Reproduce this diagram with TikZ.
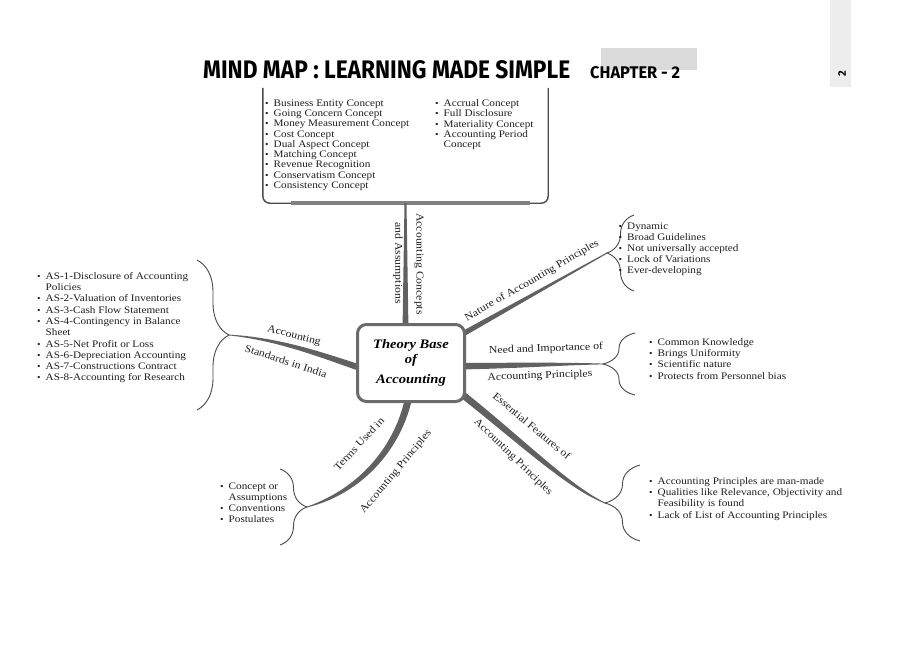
\documentclass[tikz,border=0pt]{standalone}
\usepackage{graphicx}
\usepackage{fontspec}
\setmainfont{Liberation Serif}[FakeStretch=1.12]
\newfontfamily\titlefont{Fira Sans}
\usetikzlibrary{calc,positioning,decorations.pathreplacing}

\newcommand\itm{\makebox[8.5pt][l]{\small\textbullet}}
\newcommand\cont{\hspace*{8.5pt}}

\tikzset{
  boxline/.style={draw=black!70, line width=1.4pt},
  hubbox/.style={draw=black!58, line width=3pt, rounded corners=9pt, fill=white,
    minimum width=107, minimum height=77, align=center,
    font=\bfseries\itshape\fontsize{13}{15}\selectfont},
  branch/.style={fill=black!62},
  bracket/.style={draw=black!72, line width=0.9pt, decorate, decoration={brace, amplitude=#1}},
  mapitems/.style={anchor=north west, align=left, inner sep=0pt, text=black!88,
    font=\fontsize{10}{#1}\selectfont},
  mapitems/.default=11.2,
  branchtext/.style={inner sep=0pt, text=black!88, font=\fontsize{10.5}{11}\selectfont},
  titletext/.style={inner sep=0pt, font=\titlefont\bfseries\fontsize{26}{26}\selectfont},
}

\begin{document}
\begin{tikzpicture}[x=1pt,y=-1pt]
  \useasboundingbox (0,0) rectangle (900,654);
  \fill[white] (0,0) rectangle (900,654);

  % header
  \fill[black!7] (830,0) rectangle (851,87);
  \fill[black!14] (601,48) rectangle (697,70);
  \node[titletext,anchor=base west] (title) at (203,78) {\resizebox{367pt}{18pt}{MIND MAP : LEARNING MADE SIMPLE}};
  \node[titletext,anchor=base west] (chapter) at (590,78) {\resizebox{90pt}{12pt}{CHAPTER - 2}};
  \node[titletext,rotate=90,font=\titlefont\bfseries\fontsize{11}{11}\selectfont] (pageno) at (842,74) {2};

  % concepts and assumptions box
  \node[minimum width=285,minimum height=115,inner sep=0pt] (concepts) at (405.5,145.5) {};
  \draw[boxline,rounded corners=7] (concepts.north west) |- (concepts.south east) -- (concepts.north east);
  \draw[line width=3.5,black!50] ($(concepts.south west)+(28,0)$) -- ($(concepts.south east)+(-18,0)$);
  \node[mapitems=10.25] (conceptsL) at (265,99.5) {\itm Business Entity Concept\\ \itm Going Concern Concept\\
    \itm Money Measurement Concept\\ \itm Cost Concept\\ \itm Dual Aspect Concept\\ \itm Matching Concept\\
    \itm Revenue Recognition\\ \itm Conservatism Concept\\ \itm Consistency Concept};
  \node[mapitems=10.25] (conceptsR) at (435,99.5) {\itm Accrual Concept\\ \itm Full Disclosure\\
    \itm Materiality Concept\\ \itm Accounting Period\\ \cont Concept};

  % hub and free ends
  \coordinate (hub) at (411,363);
  \coordinate (stdTip) at (229,335);
  \coordinate (natTip) at (607,253);
  \coordinate (needTip) at (603,364);
  \coordinate (essTip) at (605,503);
  \coordinate (termsTip) at (307,507);
  \coordinate (topFoot) at (concepts.south |- hub);

  % branches
  \fill[branch] ($(topFoot)+(-3.5,0)$) -- ($(concepts.south)+(-1,0)$) -- ($(concepts.south)+(1,0)$) -- ($(topFoot)+(3.5,0)$) -- cycle;
  \fill[branch] ($(hub)+(-1.7,-3.05)$) -- ($(natTip)+(-0.25,-0.44)$) -- ($(natTip)+(0.25,0.44)$) -- ($(hub)+(1.7,3.05)$) -- cycle;
  \fill[branch] ($(hub)+(0,0)$) .. controls (500,363) and (560,362) .. ($(needTip)+(0,-0.4)$)
    -- ($(needTip)+(0,0.4)$) .. controls (560,365) and (500,370) .. ($(hub)+(0,7)$) -- cycle;
  \fill[branch] ($(hub)+(32.2,12.3)$) .. controls (512,427) and (566,484) .. ($(essTip)+(0.2,-0.4)$)
    -- ($(essTip)+(-0.2,0.4)$) .. controls (563,487) and (508,433) .. ($(hub)+(27.8,17.7)$) -- cycle;
  \fill[branch] ($(hub)+(-3.5,20)$) .. controls (401,440) and (363,487) .. ($(termsTip)+(0,-0.4)$)
    -- ($(termsTip)+(0,0.4)$) .. controls (367,493) and (409,440) .. ($(hub)+(3.5,20)$) -- cycle;
  \fill[branch] ($(hub)+(-20,11.5)$) .. controls (340,359) and (290,338) .. ($(stdTip)+(0,-0.4)$)
    -- ($(stdTip)+(0,0.4)$) .. controls (290,342) and (340,366) .. ($(hub)+(-20,18.5)$) -- cycle;

  \node[hubbox] (tb) at (hub) {Theory Base\\ of\\[5pt] Accounting};

  % branch labels
  \node[branchtext,rotate=-90] (accConcepts) at (419,264) {Accounting Concepts};
  \node[branchtext,rotate=-90] (andAssump) at (398,263) {and Assumptions};
  \node[branchtext,rotate=30] (natLabel) at (532,281) {Nature of Accounting Principles};
  \node[branchtext,rotate=2] (needLabelA) at (546,349) {Need and Importance of};
  \node[branchtext,rotate=2] (needLabelB) at (540,376) {Accounting Principles};
  \node[branchtext,rotate=-15] (stdLabelA) at (294,336) {Accounting};
  \node[branchtext,rotate=-18] (stdLabelB) at (286,361) {Standards in India};
  \node[branchtext,rotate=-40] (essLabelA) at (532,426) {Essential Features of};
  \node[branchtext,rotate=-44] (essLabelB) at (513,457) {Accounting Principles};
  \node[branchtext,rotate=47] (termsLabelA) at (359,444) {Terms Used in};
  \node[branchtext,rotate=50] (termsLabelB) at (396,472) {Accounting Principles};

  % braces
  \draw[bracket=32] ($(stdTip)+(-32,-75)$) -- ($(stdTip)+(-32,75)$);
  \draw[bracket=27] ($(natTip)+(27,38)$) -- ($(natTip)+(27,-38)$);
  \draw[bracket=32] ($(needTip)+(32,31)$) -- ($(needTip)+(32,-31)$);
  \draw[bracket=35] ($(essTip)+(35,38)$) -- ($(essTip)+(35,-38)$);
  \draw[bracket=27] ($(termsTip)+(-27,-38)$) -- ($(termsTip)+(-27,38)$);

  % lists
  \node[mapitems=11.3] (stdList) at (37,272) {\itm AS-1-Disclosure of Accounting\\ \cont Policies\\
    \itm AS-2-Valuation of Inventories\\ \itm AS-3-Cash Flow Statement\\ \itm AS-4-Contingency in Balance\\
    \cont Sheet\\ \itm AS-5-Net Profit or Loss\\ \itm AS-6-Depreciation Accounting\\
    \itm AS-7-Constructions Contract\\ \itm AS-8-Accounting for Research};
  \node[mapitems=11] (natList) at (618.5,222.5) {\itm Dynamic\\ \itm Broad Guidelines\\
    \itm Not universally accepted\\ \itm Lock of Variations\\ \itm Ever-developing};
  \node[mapitems=11.3] (needList) at (649,338) {\itm Common Knowledge\\ \itm Brings Uniformity\\
    \itm Scientific nature\\ \itm Protects from Personnel bias};
  \node[mapitems=11.3] (essList) at (649,477) {\itm Accounting Principles are man-made\\
    \itm Qualities like Relevance, Objectivity and\\ \cont Feasibility is found\\
    \itm Lack of List of Accounting Principles};
  \node[mapitems=11] (termsList) at (220,483) {\itm Concept or\\ \cont Assumptions\\ \itm Conventions\\ \itm Postulates};
\end{tikzpicture}
\end{document}
